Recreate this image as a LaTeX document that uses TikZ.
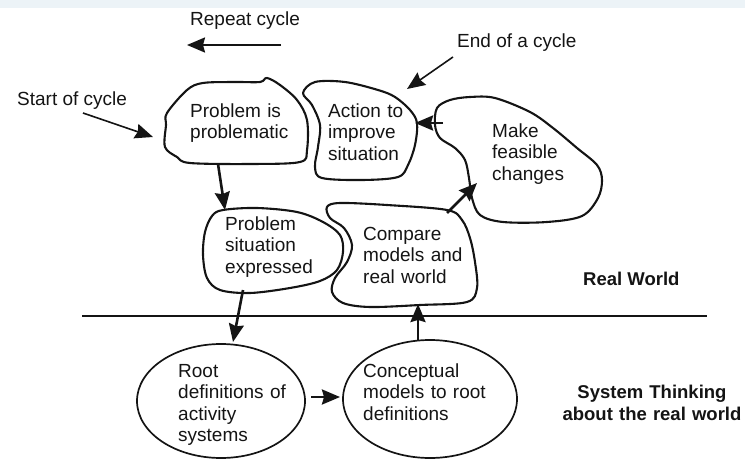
\documentclass[tikz,border=0pt]{standalone}
\usepackage{fontspec}
\setmainfont{Liberation Sans}
\usetikzlibrary{arrows.meta,shapes.geometric}
\definecolor{band}{RGB}{236,243,247}
\definecolor{ink}{RGB}{20,20,20}
\tikzset{
  blob/.style={draw=ink, line width=2.1pt, line join=round},
  lbl/.style={inner sep=0pt, anchor=base west, text=ink, font=\fontsize{19}{21.6}\selectfont},
  blk/.style={lbl, text width=160pt, align=left},
  oval/.style={draw=ink, line width=1.7pt, ellipse, inner sep=0pt},
  arr/.style={draw=ink, line width=2.6pt, -{Stealth[length=18pt,width=15pt,inset=2pt]}},
  thinarr/.style={draw=ink, line width=1.6pt, -{Stealth[length=18pt,width=15pt,inset=2pt]}},
}
\begin{document}
\begin{tikzpicture}[x=1pt,y=-1pt]
\useasboundingbox (0,0) rectangle (745,463);
\fill[band] (0,0) rectangle (745,8);

% blobs
\draw[blob] plot[smooth cycle, tension=0.55] coordinates {(167,113) (187,90) (203,83) (235,82) (260,82) (267,78) (280,85) (297,100) (307,120) (307,150) (300,162) (250,164) (190,163) (177,157) (165,147) (166,125)};
\draw[blob] plot[smooth cycle, tension=0.55] coordinates {(303,93) (315,82) (345,82) (378,90) (395,97) (410,110) (417,123) (415,145) (408,165) (398,177) (362,180) (322,178) (315,167) (318,147) (320,125) (312,105)};
\draw[blob] plot[smooth cycle, tension=0.55] coordinates {(437,108) (450,100) (470,97) (495,98) (530,112) (553,128) (577,148) (597,165) (602,180) (598,198) (582,216) (547,222) (503,222) (480,215) (472,198) (469,178) (465,160) (455,148) (440,138) (435,125)};
\draw[blob] plot[smooth cycle, tension=0.55] coordinates {(223,210) (257,208) (297,212) (323,222) (340,235) (343,252) (337,270) (320,281) (290,288) (250,293) (220,290) (207,278) (203,255) (205,232) (212,216)};
\draw[blob] plot[smooth cycle, tension=0.55] coordinates {(327,207) (340,203) (387,205) (447,210) (462,220) (470,238) (475,262) (477,288) (467,302) (420,305) (370,307) (343,303) (332,292) (335,278) (347,262) (352,245) (344,228) (330,218)};

% ellipses
\node[oval, minimum width=168pt, minimum height=114pt] (e1) at (221,401) {};
\node[oval, minimum width=174pt, minimum height=118pt] (e2) at (430,399) {};

% blob texts
\node[blk] (t1) at (190,117) {Problem is\\problematic};
\node[blk] (t2) at (328,117) {Action to\\improve\\situation};
\node[blk] (t3) at (492,137) {Make\\feasible\\changes};
\node[blk] (t4) at (225,230) {Problem\\situation\\expressed};
\node[blk] (t5) at (363,240) {Compare\\models and\\real world};
\node[blk] (t6) at (178,377) {Root\\definitions of\\activity\\systems};
\node[blk] (t7) at (363,377) {Conceptual\\models to root\\definitions};

% labels
\node[lbl] (rep) at (190,25) {Repeat cycle};
\node[lbl] (end) at (457,47) {End of a cycle};
\node[lbl] (start) at (17,105) {Start of cycle};
\node[lbl, font=\fontsize{18.5}{21.6}\selectfont\bfseries] (rw) at (583,285) {Real World};
\node[lbl, anchor=base, text width=220pt, align=center, font=\fontsize{18.5}{22}\selectfont\bfseries] (st) at (652,398) {System Thinking\\about the real world};

% divider
\coordinate (hl) at (82,316);
\coordinate (hr) at (707,316);
\draw[ink, line width=2.2pt] (hl) -- (hr);

% arrow end points
\coordinate (ra) at (281,45);  \coordinate (rb) at (187,45);
\coordinate (ea) at (453,57);  \coordinate (eb) at (407,89);
\coordinate (sa) at (83,113);  \coordinate (sb) at (153,137);
\coordinate (b1o) at (218,164); \coordinate (b4i) at (225,210);
\coordinate (b4o) at (243,290); \coordinate (e1i) at (233,342);
\coordinate (e1o) at (311,397); \coordinate (e2i) at (340,397);
\coordinate (e2o) at (418,340); \coordinate (b5i) at (418,304);
\coordinate (b5o) at (447,213); \coordinate (b3i) at (477,183);
\coordinate (b3o) at (443,123); \coordinate (b2i) at (415,123);

\draw[arr, line width=2.2pt] (ra) -- (rb);
\draw[thinarr] (ea) -- (eb);
\draw[thinarr] (sa) -- (sb);
\draw[arr] (b1o) -- (b4i);
\draw[arr] (b4o) -- (e1i);
\draw[arr] (e1o) -- (e2i);
\draw[arr] (e2o) -- (b5i);
\draw[arr] (b5o) -- (b3i);
\draw[arr] (b3o) -- (b2i);
\end{tikzpicture}
\end{document}
